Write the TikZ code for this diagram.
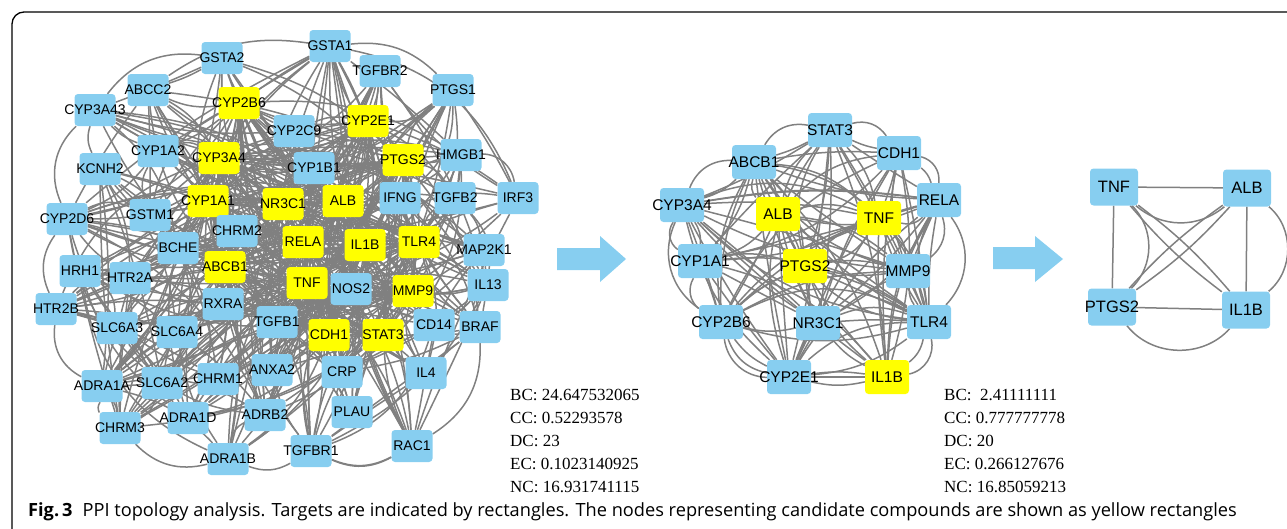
\documentclass[tikz,border=0pt]{standalone}
\usepackage{fontspec}
\setmainfont{Open Sans}
\newfontfamily\arialf{Liberation Sans}
\newfontfamily\timesf{Liberation Serif}
\pgfdeclarelayer{edges}
\pgfsetlayers{edges,main}
\definecolor{tgtblue}{RGB}{135,206,240}
\definecolor{cmpyellow}{RGB}{255,255,0}
\definecolor{linkgray}{RGB}{128,128,128}
\tikzset{ppi/.style={
  x=1pt,y=-1pt,line join=round,line cap=round,
  every label/.style={font=\arialf\fontsize{14}{14}\selectfont,inner sep=0pt}
},
  target/.style={rectangle,rounded corners=3.5pt,fill=tgtblue,inner sep=0pt,
    minimum width=41pt,minimum height=32pt},
  compound/.style={target,fill=cmpyellow},
  link/.style={draw=linkgray,line width=1.5pt},
  stats/.style={anchor=north west,inner sep=0pt,align=left,
    font=\timesf\fontsize{17}{23}\selectfont},
  flow/.style={fill=tgtblue}
}

\begin{document}
\begin{tikzpicture}[ppi]
  \useasboundingbox (0,0) rectangle (1287,528);
  \clip (0,0) rectangle (1287,528);
  \draw[line width=1.3pt,rounded corners=12pt] (12,600) -- (12,12) -- (1350,12);

  % full network
  \node[target,label=center:GSTA1] (lGSTA1) at (330,46) {};
  \node[target,label=center:GSTA2] (lGSTA2) at (222,58) {};
  \node[target,label=center:TGFBR2] (lTGFBR2) at (380,71) {};
  \node[target,label=center:ABCC2] (lABCC2) at (148,90) {};
  \node[compound,label=center:CYP2B6] (lCYP2B6) at (239,103) {};
  \node[target,label=center:PTGS1] (lPTGS1) at (453,90) {};
  \node[target,label=center:CYP3A43] (lCYP3A43) at (95,110) {};
  \node[target,label=center:CYP2C9] (lCYP2C9) at (294,131) {};
  \node[compound,label=center:CYP2E1] (lCYP2E1) at (368,121) {};
  \node[target,label=center:CYP1A2] (lCYP1A2) at (158,151) {};
  \node[compound,label=center:CYP3A4] (lCYP3A4) at (219,158) {};
  \node[target,label=center:CYP1B1] (lCYP1B1) at (314,168) {};
  \node[compound,label=center:PTGS2] (lPTGS2) at (403,160) {};
  \node[target,label=center:HMGB1] (lHMGB1) at (461,155) {};
  \node[target,label=center:KCNH2] (lKCNH2) at (100,169) {};
  \node[compound,label=center:CYP1A1] (lCYP1A1) at (208,201) {};
  \node[compound,label=center:NR3C1] (lNR3C1) at (283,204) {};
  \node[compound,label=center:ALB] (lALB) at (343,201) {};
  \node[target,label=center:IFNG] (lIFNG) at (400,198) {};
  \node[target,label=center:TGFB2] (lTGFB2) at (455,198) {};
  \node[target,label=center:IRF3] (lIRF3) at (518,198) {};
  \node[target,label=center:CYP2D6] (lCYP2D6) at (67,219) {};
  \node[target,label=center:GSTM1] (lGSTM1) at (150,215) {};
  \node[target,label=center:CHRM2] (lCHRM2) at (237,231) {};
  \node[compound,label=center:RELA] (lRELA) at (303,242) {};
  \node[compound,label=center:IL1B] (lIL1B) at (365,245) {};
  \node[compound,label=center:TLR4] (lTLR4) at (419,242) {};
  \node[target,label=center:MAP2K1] (lMAP2K1) at (484,250) {};
  \node[target,label=center:BCHE] (lBCHE) at (178,248) {};
  \node[target,label=center:HRH1] (lHRH1) at (80,271) {};
  \node[target,label=center:HTR2A] (lHTR2A) at (130,278) {};
  \node[compound,label=center:ABCB1] (lABCB1) at (225,267) {};
  \node[compound,label=center:TNF] (lTNF) at (307,283) {};
  \node[target,label=center:NOS2] (lNOS2) at (351,289) {};
  \node[compound,label=center:MMP9] (lMMP9) at (413,291) {};
  \node[target,label=center:IL13] (lIL13) at (488,285) {};
  \node[target,label=center:HTR2B] (lHTR2B) at (56,309) {};
  \node[target,label=center:RXRA] (lRXRA) at (223,304) {};
  \node[target,label=center:TGFB1] (lTGFB1) at (277,322) {};
  \node[target,label=center:SLC6A3] (lSLC6A3) at (117,328) {};
  \node[target,label=center:SLC6A4] (lSLC6A4) at (177,332) {};
  \node[compound,label=center:CDH1] (lCDH1) at (329,335) {};
  \node[compound,label=center:STAT3] (lSTAT3) at (383,335) {};
  \node[target,label=center:CD14] (lCD14) at (434,325) {};
  \node[target,label=center:BRAF] (lBRAF) at (480,327) {};
  \node[target,label=center:ANXA2] (lANXA2) at (272,370) {};
  \node[target,label=center:CRP] (lCRP) at (342,372) {};
  \node[target,label=center:IL4] (lIL4) at (426,373) {};
  \node[target,label=center:ADRA1A] (lADRA1A) at (102,386) {};
  \node[target,label=center:SLC6A2] (lSLC6A2) at (162,383) {};
  \node[target,label=center:CHRM1] (lCHRM1) at (218,379) {};
  \node[target,label=center:CHRM3] (lCHRM3) at (120,428) {};
  \node[target,label=center:ADRA1D] (lADRA1D) at (188,418) {};
  \node[target,label=center:ADRB2] (lADRB2) at (265,415) {};
  \node[target,label=center:PLAU] (lPLAU) at (352,412) {};
  \node[target,label=center:ADRA1B] (lADRA1B) at (228,459) {};
  \node[target,label=center:TGFBR1] (lTGFBR1) at (311,451) {};
  \node[target,label=center:RAC1] (lRAC1) at (412,446) {};

  \pgfmathsetseed{1287}
  \begin{pgfonlayer}{edges}
    \foreach \a [count=\i] in {CYP2B6,CYP2E1,CYP3A4,PTGS2,CYP1A1,NR3C1,ALB,RELA,IL1B,TLR4,ABCB1,TNF,MMP9,CDH1,STAT3}{
      \foreach \b [count=\j] in {CYP2B6,CYP2E1,CYP3A4,PTGS2,CYP1A1,NR3C1,ALB,RELA,IL1B,TLR4,ABCB1,TNF,MMP9,CDH1,STAT3}{
        \ifnum\j>\i
          \pgfmathtruncatemacro\keep{rnd<0.95}
          \pgfmathsetmacro\bnd{40*rnd-20}
          \ifnum\keep=1 \draw[link] (l\a) to[bend left=\bnd] (l\b); \fi
        \fi
      }
      \foreach \b in {GSTA1,GSTA2,TGFBR2,ABCC2,PTGS1,CYP3A43,CYP2C9,CYP1A2,CYP1B1,HMGB1,KCNH2,IFNG,TGFB2,IRF3,CYP2D6,GSTM1,CHRM2,MAP2K1,BCHE,HRH1,HTR2A,NOS2,IL13,HTR2B,RXRA,TGFB1,SLC6A3,SLC6A4,CD14,BRAF,ANXA2,CRP,IL4,ADRA1A,SLC6A2,CHRM1,CHRM3,ADRA1D,ADRB2,PLAU,ADRA1B,TGFBR1,RAC1}{
        \pgfmathtruncatemacro\keep{rnd<0.55}
        \pgfmathsetmacro\bnd{50*rnd-25}
        \ifnum\keep=1 \draw[link] (l\a) to[bend left=\bnd] (l\b); \fi
      }
    }
    % receptor group
    \foreach \a [count=\i] in {KCNH2,CYP2D6,HRH1,HTR2A,HTR2B,SLC6A3,SLC6A4,ADRA1A,SLC6A2,CHRM1,CHRM3,ADRA1D,ADRB2,ADRA1B,CHRM2,BCHE,RXRA}{
      \foreach \b [count=\j] in {KCNH2,CYP2D6,HRH1,HTR2A,HTR2B,SLC6A3,SLC6A4,ADRA1A,SLC6A2,CHRM1,CHRM3,ADRA1D,ADRB2,ADRA1B,CHRM2,BCHE,RXRA}{
        \ifnum\j>\i
          \pgfmathtruncatemacro\keep{rnd<0.4}
          \pgfmathsetmacro\bnd{60*rnd-30}
          \ifnum\keep=1 \draw[link] (l\a) to[bend left=\bnd] (l\b); \fi
        \fi
      }
    }
    % cytokine group
    \foreach \a [count=\i] in {HMGB1,IFNG,TGFB2,IRF3,MAP2K1,IL13,BRAF,CD14,IL4,RAC1,PLAU,CRP,TGFBR1,TGFB1,ANXA2,NOS2,PTGS1,TGFBR2,GSTA1}{
      \foreach \b [count=\j] in {HMGB1,IFNG,TGFB2,IRF3,MAP2K1,IL13,BRAF,CD14,IL4,RAC1,PLAU,CRP,TGFBR1,TGFB1,ANXA2,NOS2,PTGS1,TGFBR2,GSTA1}{
        \ifnum\j>\i
          \pgfmathtruncatemacro\keep{rnd<0.33}
          \pgfmathsetmacro\bnd{60*rnd-30}
          \ifnum\keep=1 \draw[link] (l\a) to[bend left=\bnd] (l\b); \fi
        \fi
      }
    }
    % metabolism group
    \foreach \a [count=\i] in {GSTA1,GSTA2,ABCC2,CYP3A43,CYP1A2,KCNH2,GSTM1,CYP2C9,CYP1B1,CYP2D6,BCHE}{
      \foreach \b [count=\j] in {GSTA1,GSTA2,ABCC2,CYP3A43,CYP1A2,KCNH2,GSTM1,CYP2C9,CYP1B1,CYP2D6,BCHE}{
        \ifnum\j>\i
          \pgfmathtruncatemacro\keep{rnd<0.45}
          \pgfmathsetmacro\bnd{60*rnd-30}
          \ifnum\keep=1 \draw[link] (l\a) to[bend left=\bnd] (l\b); \fi
        \fi
      }
    }
    % outer ring
    \draw[link] (lCYP3A43) to[bend right=35] (lCYP2D6);
    \draw[link] (lCYP2D6) to[bend right=30] (lHTR2B);
    \draw[link] (lHTR2B) to[bend right=35] (lADRA1A);
    \draw[link] (lADRA1A) to[bend right=30] (lCHRM3);
    \draw[link] (lCHRM3) to[bend right=30] (lADRA1B);
    \draw[link] (lADRA1B) to[bend right=25] (lTGFBR1);
    \draw[link] (lTGFBR1) to[bend right=25] (lRAC1);
    \draw[link] (lRAC1) to[bend right=30] (lBRAF);
    \draw[link] (lIRF3) to[bend right=40] (lHMGB1);
    \draw[link] (lPTGS1) to[bend right=25] (lGSTA1);
    \draw[link] (lGSTA2) to[bend right=30] (lCYP3A43);
  \end{pgfonlayer}

  \fill[flow] (557,248) -- (600,248) -- (600,236) -- (626,259) -- (600,282) -- (600,270) -- (557,270) -- cycle;

  % core network
  \begin{scope}[target/.append style={minimum width=44pt,minimum height=34pt},
      every label/.append style={font=\arialf\fontsize{15.5}{15.5}\selectfont}]
    \node[target,label=center:STAT3] (mSTAT3) at (830,130) {};
    \node[target,label=center:CDH1] (mCDH1) at (899,153) {};
    \node[target,label=center:ABCB1] (mABCB1) at (754,162) {};
    \node[target,label=center:RELA] (mRELA) at (939,200) {};
    \node[target,label=center:CYP3A4] (mCYP3A4) at (682,205) {};
    \node[compound,label=center:ALB] (mALB) at (778,214) {};
    \node[compound,label=center:TNF] (mTNF) at (879,218) {};
    \node[target,label=center:CYP1A1] (mCYP1A1) at (700,261) {};
    \node[compound,label=center:PTGS2] (mPTGS2) at (805,266) {};
    \node[target,label=center:MMP9] (mMMP9) at (908,271) {};
    \node[target,label=center:CYP2B6] (mCYP2B6) at (721,322) {};
    \node[target,label=center:NR3C1] (mNR3C1) at (818,323) {};
    \node[target,label=center:TLR4] (mTLR4) at (929,322) {};
    \node[target,label=center:CYP2E1] (mCYP2E1) at (789,377) {};
    \node[compound,label=center:IL1B] (mIL1B) at (887,377) {};
  \end{scope}
  \begin{pgfonlayer}{edges}
    \foreach \a [count=\i] in {STAT3,CDH1,ABCB1,RELA,CYP3A4,ALB,TNF,CYP1A1,PTGS2,MMP9,CYP2B6,NR3C1,TLR4,CYP2E1,IL1B}{
      \foreach \b [count=\j] in {STAT3,CDH1,ABCB1,RELA,CYP3A4,ALB,TNF,CYP1A1,PTGS2,MMP9,CYP2B6,NR3C1,TLR4,CYP2E1,IL1B}{
        \ifnum\j>\i
          \pgfmathtruncatemacro\keep{rnd<0.85}
          \pgfmathsetmacro\bnd{40*rnd-20}
          \ifnum\keep=1 \draw[link] (m\a) to[bend left=\bnd] (m\b); \fi
          \pgfmathtruncatemacro\keep{rnd<0.3}
          \pgfmathsetmacro\bnd{70*rnd-35}
          \ifnum\keep=1 \draw[link] (m\a) to[bend left=\bnd] (m\b); \fi
        \fi
      }
    }
    % outer ring
    \draw[link] (mSTAT3) to[bend right=35] (mABCB1);
    \draw[link] (mABCB1) to[bend right=35] (mCYP3A4);
    \draw[link] (mCYP3A4) to[bend right=45] (mCYP1A1);
    \draw[link] (mCYP3A4) to[bend right=40] (mCYP2B6);
    \draw[link] (mCYP1A1) to[bend right=40] (mCYP2B6);
    \draw[link] (mCYP2B6) to[bend right=40] (mCYP2E1);
    \draw[link] (mCYP2E1) -- (mIL1B);
    \draw[link] (mIL1B) to[bend right=45] (mTLR4);
    \draw[link] (mTLR4) to[bend right=40] (mRELA);
    \draw[link] (mMMP9) to[bend right=35] (mRELA);
    \draw[link] (mRELA) to[bend right=40] (mCDH1);
    \draw[link] (mCDH1) to[bend right=35] (mSTAT3);
  \end{pgfonlayer}

  \fill[flow] (993,247) -- (1035,247) -- (1035,236) -- (1063,259) -- (1035,282) -- (1035,269) -- (993,269) -- cycle;

  % hub network
  \begin{scope}[target/.append style={minimum width=48pt,minimum height=37pt},
      every label/.append style={font=\arialf\fontsize{16.5}{16.5}\selectfont}]
    \node[target,label=center:TNF] (rTNF) at (1114,187) {};
    \node[target,label=center:ALB] (rALB) at (1247,188) {};
    \node[target,label=center:PTGS2] (rPTGS2) at (1112,307) {};
    \node[target,label=center:IL1B] (rIL1B) at (1246,310) {};
  \end{scope}
  \begin{pgfonlayer}{edges}
    \draw[link] (rTNF) -- (rALB);
    \draw[link] (rTNF) to[bend right=40] (rALB);
    \draw[link] (rTNF) -- (rPTGS2);
    \draw[link] (rTNF) to[bend left=45] (rPTGS2);
    \draw[link] (rALB) -- (rIL1B);
    \draw[link] (rALB) to[bend left=50] (rIL1B);
    \draw[link] (rPTGS2) -- (rIL1B);
    \draw[link] (rPTGS2) to[bend right=50] (rIL1B);
    \draw[link] (rTNF) to[bend left=6] (rIL1B);
    \draw[link] (rTNF) to[bend right=6] (rIL1B);
    \draw[link] (rALB) to[bend left=6] (rPTGS2);
    \draw[link] (rALB) to[bend right=6] (rPTGS2);
  \end{pgfonlayer}

  \node[stats] (statsfull) at (510,389) {BC: 24.647532065\\CC: 0.52293578\\DC: 23\\EC: 0.1023140925\\NC: 16.931741115};
  \node[stats] (statscore) at (944,389) {BC:\ \ 2.41111111\\CC: 0.777777778\\DC: 20\\EC: 0.266127676\\NC: 16.85059213};

  \node[anchor=base west,inner sep=0pt,font=\fontsize{18.2}{18.2}\selectfont] (caption) at (28,516)
    {\textbf{Fig.\,3}\hspace{10pt}PPI topology analysis. Targets are indicated by rectangles. The nodes representing candidate compounds are shown as yellow rectangles};
\end{tikzpicture}
\end{document}
